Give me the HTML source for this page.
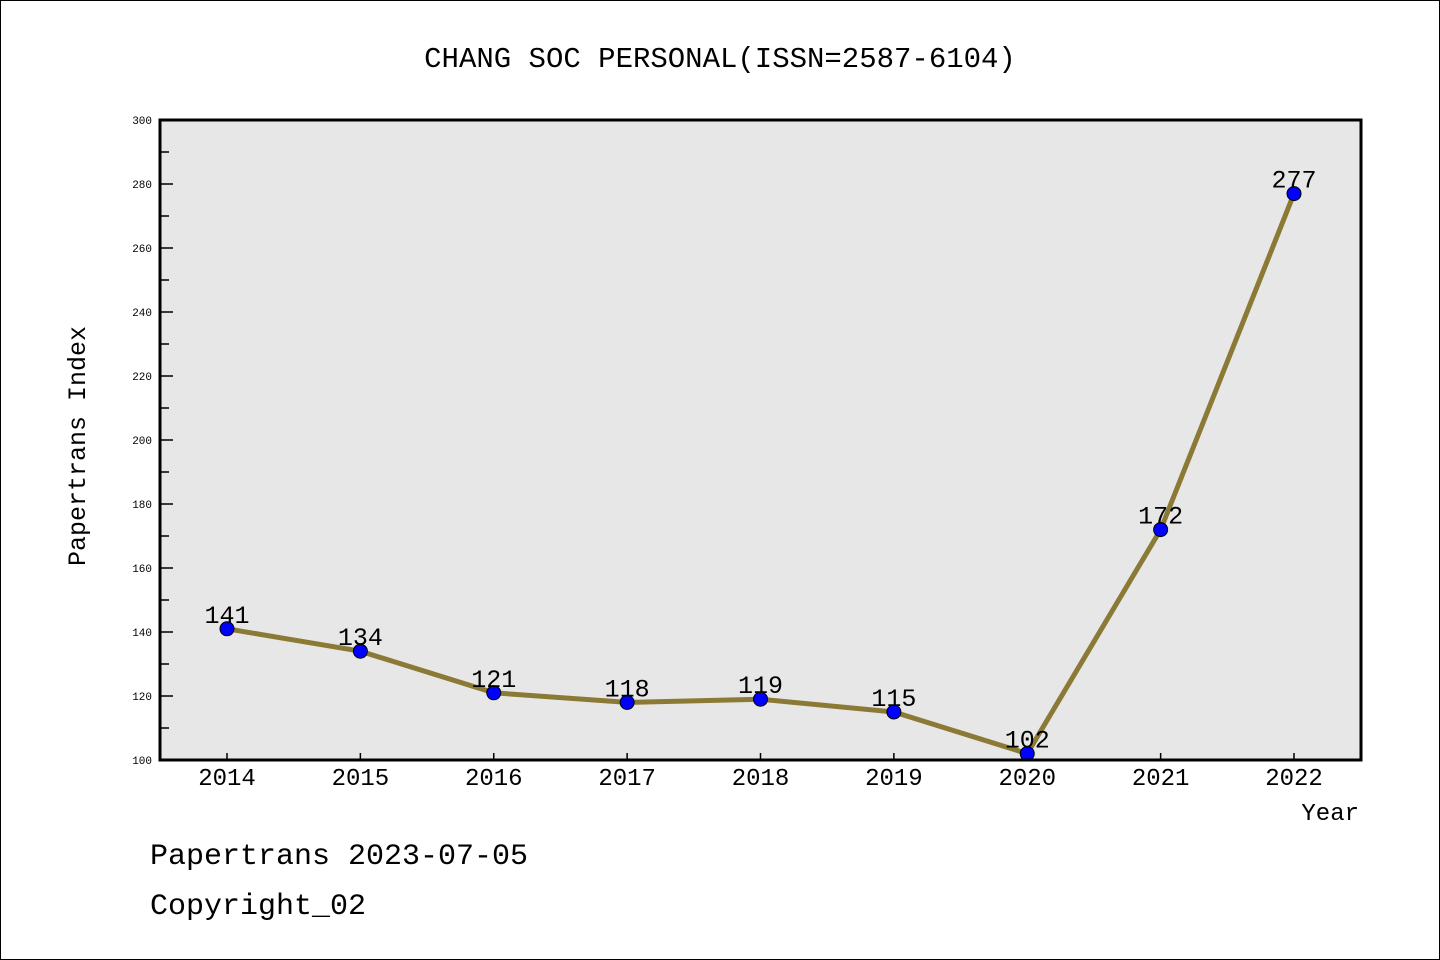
<!DOCTYPE html>
<html><head><meta charset="utf-8"><style>
body{margin:0;background:#fff}
svg{display:block}
text{font-family:"Liberation Mono",monospace}
</style></head><body>
<svg id="c" width="1440" height="960" viewBox="0 0 1440 960">
<rect x="0.5" y="0.5" width="1439" height="959" fill="#fff" stroke="#000"/>
<text x="720" y="67" font-size="29" text-anchor="middle">CHANG SOC PERSONAL(ISSN=2587-6104)</text>
<rect x="160" y="120" width="1201" height="640" fill="#e7e7e7"/>
<g id="ticks"></g>
<g id="series"></g>
<rect x="160" y="120" width="1201" height="640" fill="none" stroke="#000" stroke-width="3"/>
<text x="85" y="446" font-size="25" text-anchor="middle" transform="rotate(-90 85 446)">Papertrans Index</text>
<text x="1359" y="820" font-size="24" text-anchor="end">Year</text>
<text x="150" y="864" font-size="30">Papertrans 2023-07-05</text>
<text x="150" y="914" font-size="30">Copyright_02</text>
</svg>
<script>
const years=["2014","2015","2016","2017","2018","2019","2020","2021","2022"];
const values=[141,134,121,118,119,115,102,172,277];
const yTicks=[100,120,140,160,180,200,220,240,260,280,300];
const NS="http://www.w3.org/2000/svg";
const x0=227,dx=133.375;
const xs=i=>x0+i*dx;
const ys=v=>760-(v-100)*640/200;
function mk(t,a,p){const e=document.createElementNS(NS,t);for(const k in a)e.setAttribute(k,a[k]);p.appendChild(e);return e;}
const tg=document.getElementById('ticks'),sg=document.getElementById('series');
yTicks.forEach((v,i)=>{
 const y=ys(v);
 const l=mk('line',{x1:160,x2:173,y1:y,y2:y,stroke:'#000','stroke-width':1.5},tg);
 
 
 const t=mk('text',{x:152,y:y+4,'font-size':11,'text-anchor':'end'},tg);t.textContent=v;
 
 
 if(i<yTicks.length-1){const ym=ys(v+10);
 const m=mk('line',{x1:160,x2:169,y1:ym,y2:ym,stroke:'#000','stroke-width':1.5},tg);
 
 }
});
years.forEach((yr,i)=>{
 const x=xs(i);
 const l=mk('line',{x1:x,x2:x,y1:760,y2:753,stroke:'#000','stroke-width':1.5},tg);
 
 
 const t=mk('text',{x:x,y:785,'font-size':24,'text-anchor':'middle'},tg);t.textContent=yr;
 
 
});
const pl=mk('polyline',{points:values.map((v,i)=>xs(i)+','+ys(v)).join(' '),fill:'none',stroke:'#8b7a35','stroke-width':5},sg);


values.forEach((v,i)=>{
 const c=mk('circle',{cx:xs(i),cy:ys(v),r:7,fill:'#0000ff',stroke:'#000','stroke-width':1},sg);
 
 
 const t=mk('text',{x:xs(i),y:ys(v)-6,'font-size':25,'text-anchor':'middle'},sg);t.textContent=v;
 
 
});
</script>
</body></html>
